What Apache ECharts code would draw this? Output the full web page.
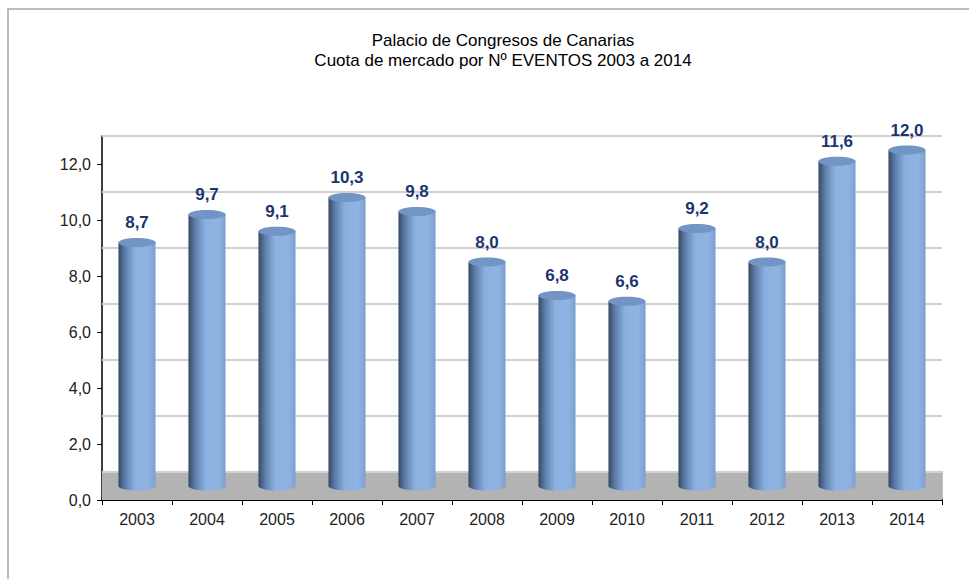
<!DOCTYPE html>
<html>
<head>
<meta charset="utf-8">
<script src="https://cdn.jsdelivr.net/npm/echarts@6/dist/echarts.min.js"></script>
<style>
  html, body { margin: 0; padding: 0; background: #fff; }
  #chart { width: 969px; height: 579px; }
</style>
</head>
<body>
<div id="chart"></div>
<script>
// datos
const years = ['2003', '2004', '2005', '2006', '2007', '2008', '2009', '2010', '2011', '2012', '2013', '2014']
const cuota = [8.7, 9.7, 9.1, 10.3, 9.8, 8.0, 6.8, 6.6, 9.2, 8.0, 11.6, 12.0]
// lineas del fondo (pared trasera, desplazada una unidad por la profundidad 3D)
const wallLines = [1, 3, 5, 7, 9, 11, 13]
const floorTop = 1

const DEPTH = 0.5 // los cilindros se apoyan en medio del suelo
const fmt = (v) => v.toFixed(1).replace('.', ',')

const chart = echarts.init(document.getElementById('chart'), null, { renderer: 'svg' })

const renderCylinder = (params, api) => {
  const i = api.value(0)
  const v = api.value(1)
  const top = api.coord([i, v + DEPTH])
  const base = api.coord([i, DEPTH])
  const w = api.size([1, 0])[0] * 0.53
  const rx = w / 2
  const ry = 4.5
  const x0 = top[0] - rx
  const body = new echarts.graphic.LinearGradient(0, 0, 1, 0, [
    { offset: 0, color: '#364963' },
    { offset: 0.18, color: '#5e7eaa' },
    { offset: 0.45, color: '#8bb1e1' },
    { offset: 0.8, color: '#8fb4e3' },
    { offset: 1, color: '#7c9fcf' },
  ])
  return {
    type: 'group',
    children: [
      {
        type: 'ellipse',
        shape: { cx: base[0], cy: base[1], rx: rx, ry: ry },
        style: { fill: body },
      },
      {
        type: 'rect',
        shape: { x: x0, y: top[1], width: w, height: base[1] - top[1] },
        style: { fill: body },
      },
      {
        type: 'ellipse',
        shape: { cx: top[0], cy: top[1], rx: rx, ry: ry },
        style: { fill: '#7395c6' },
      },
      {
        type: 'text',
        x: top[0],
        y: top[1] - 20,
        style: {
          text: fmt(v),
          align: 'center',
          verticalAlign: 'middle',
          fill: '#1c3570',
          font: 'bold 17px "Liberation Sans", Arial, sans-serif',
        },
      },
    ],
  }
}

chart.setOption({
  animation: false,
  textStyle: { fontFamily: '"Liberation Sans", Arial, sans-serif' },
  title: {
    text: 'Palacio de Congresos de Canarias\nCuota de mercado por Nº EVENTOS 2003 a 2014',
    left: 503,
    top: 30,
    padding: 0,
    textAlign: 'center',
    textStyle: {
      fontSize: 17,
      fontWeight: 'normal',
      color: '#000',
      lineHeight: 20,
    },
  },
  grid: {
    left: 102,
    right: 27,
    top: 136,
    bottom: 79,
  },
  xAxis: {
    type: 'category',
    data: years,
    boundaryGap: true,
    axisLine: { lineStyle: { color: '#000', width: 2 } },
    axisTick: { show: true, alignWithLabel: false, length: 5, lineStyle: { color: '#000' } },
    axisLabel: { color: '#222', fontSize: 16, margin: 11 },
    splitLine: { show: false },
  },
  yAxis: {
    type: 'value',
    min: 0,
    max: 13,
    interval: 2,
    axisLine: { show: true, lineStyle: { color: '#000', width: 1.5 } },
    axisTick: { show: true, length: 5, lineStyle: { color: '#000' } },
    axisLabel: {
      color: '#222',
      fontSize: 16,
      margin: 11,
      showMaxLabel: false,
      formatter: (v) => fmt(v),
    },
    splitLine: { show: false },
  },
  graphic: [
    {
      type: 'rect',
      shape: { x: 8, y: 9, width: 1200, height: 1200 },
      style: { fill: 'none', stroke: '#a6a6a6', lineWidth: 1.5 },
      silent: true,
      z: -10,
    },
    {
      type: 'line',
      shape: { x1: 941.5, y1: 471, x2: 941.5, y2: 500 },
      style: { stroke: '#000', lineWidth: 1.5 },
      silent: true,
    },
  ],
  series: [
    {
      name: 'fondo',
      type: 'line',
      data: [],
      z: 1,
      silent: true,
      markArea: {
        z: 1,
        silent: true,
        itemStyle: { color: '#b3b3b3' },
        data: [[{ yAxis: 0 }, { yAxis: floorTop }]],
      },
      markLine: {
        z: 1,
        silent: true,
        symbol: 'none',
        label: { show: false },
        lineStyle: { color: '#d0d0d0', width: 2, type: 'solid' },
        data: wallLines.map((v) => ({ yAxis: v })),
      },
    },
    {
      name: 'Cuota',
      type: 'custom',
      z: 3,
      renderItem: renderCylinder,
      encode: { x: 0, y: 1 },
      data: cuota.map((v, i) => [i, v]),
    },
  ],
})
</script>
</body>
</html>
